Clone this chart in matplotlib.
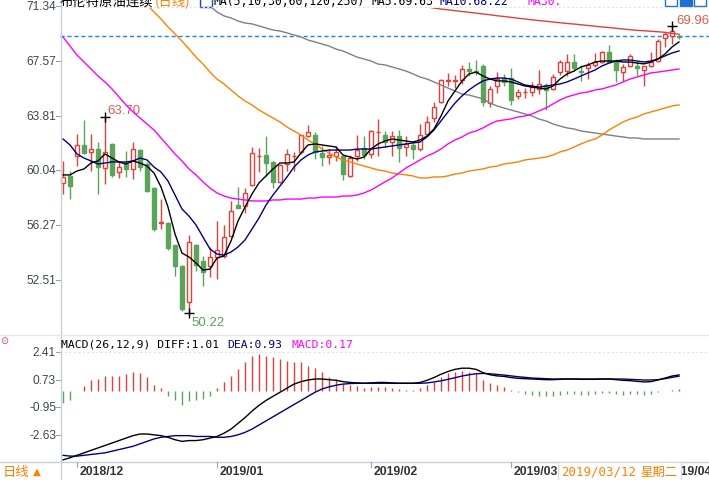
import numpy as np
import matplotlib
matplotlib.use("Agg")
import matplotlib.pyplot as plt
from matplotlib.patches import Rectangle

# ---------------- data ----------------
opens = [59.18, 59.66, 61.03, 61.79, 61.31, 61.51, 60.21, 61.86, 59.93, 60.48,
         60.14, 61.44, 60.48, 58.83, 56.45, 56.43, 54.91, 53.47, 51.00, 54.91,
         53.81, 53.47, 54.09, 54.16, 55.53, 57.66, 57.59, 59.04, 61.00, 61.10,
         60.62, 59.24, 60.48, 61.00, 61.31, 62.40, 62.47, 61.24, 60.96, 61.03,
         61.03, 59.66, 61.03, 61.58, 61.17, 62.65, 62.47, 61.99, 62.40, 61.65,
         61.79, 61.51, 62.54, 63.64, 64.74, 66.20, 66.20, 66.25, 67.00, 66.90,
         67.22, 64.67, 65.84, 66.39, 66.39, 65.16, 65.40, 65.43, 65.64, 65.91,
         65.64, 66.80, 66.87, 67.49, 66.90, 67.08, 67.29, 67.49, 68.18, 67.49,
         66.80, 67.22, 67.20, 66.94, 67.22, 67.56, 69.14, 69.28, 69.25]
highs = [60.69, 60.00, 62.54, 63.50, 62.54, 61.99, 63.70, 61.90, 60.69, 61.37,
         61.99, 61.51, 60.62, 58.90, 58.07, 56.50, 54.91, 53.54, 55.60, 54.98,
         54.16, 54.78, 56.56, 56.29, 57.94, 58.90, 58.83, 61.65, 61.58, 62.40,
         60.69, 60.48, 61.51, 61.31, 62.47, 63.16, 62.68, 61.72, 61.51, 61.72,
         61.10, 61.10, 62.47, 62.40, 62.82, 63.57, 62.75, 62.75, 62.82, 62.40,
         62.06, 63.23, 63.78, 64.74, 66.32, 66.74, 66.60, 67.29, 67.49, 67.63,
         67.36, 65.84, 66.80, 66.67, 67.08, 65.64, 65.71, 66.12, 66.94, 66.05,
         66.67, 67.63, 68.04, 68.04, 67.30, 67.50, 68.10, 68.25, 68.66, 67.70,
         67.36, 68.04, 67.56, 67.22, 68.18, 69.07, 69.55, 69.96, 69.40]
lows = [58.42, 58.07, 60.34, 61.17, 60.00, 58.42, 59.11, 59.60, 59.52, 59.59,
        59.45, 60.00, 58.56, 55.88, 56.01, 54.57, 52.78, 50.38, 50.22, 53.13,
        52.10, 52.71, 52.58, 54.02, 55.46, 57.46, 57.11, 58.97, 59.93, 59.66,
        58.83, 59.18, 60.00, 60.00, 61.17, 62.34, 60.83, 60.34, 60.48, 60.69,
        59.38, 59.59, 60.69, 60.83, 60.89, 61.03, 61.65, 61.03, 60.62, 61.03,
        60.83, 61.37, 62.47, 63.37, 64.67, 65.84, 65.70, 65.98, 66.53, 66.60,
        64.47, 64.40, 65.36, 65.84, 64.54, 64.95, 65.02, 65.16, 65.29, 64.19,
        65.57, 66.60, 66.53, 66.87, 66.19, 66.30, 67.15, 67.42, 67.42, 66.12,
        66.19, 67.15, 66.53, 65.84, 67.15, 67.49, 68.52, 68.73, 69.10]
closes = [59.59, 58.97, 61.79, 61.24, 61.51, 60.27, 61.31, 59.73, 60.27, 60.14,
          61.51, 60.27, 58.63, 56.01, 56.50, 54.71, 53.47, 50.52, 55.12, 53.54,
          53.06, 54.09, 54.57, 55.46, 57.25, 57.46, 58.49, 61.24, 61.05, 60.55,
          59.24, 60.41, 61.17, 61.05, 62.47, 62.68, 61.31, 60.96, 61.10, 61.31,
          59.79, 60.89, 61.44, 61.10, 62.75, 62.70, 61.99, 62.40, 61.58, 61.86,
          61.51, 62.47, 63.37, 64.40, 66.25, 66.25, 66.25, 67.01, 66.90, 66.80,
          64.74, 65.64, 66.32, 66.12, 64.88, 65.43, 65.45, 65.77, 65.98, 65.57,
          66.46, 67.49, 67.49, 67.08, 66.80, 67.29, 67.49, 68.18, 67.49, 66.94,
          67.15, 67.90, 67.05, 67.22, 67.49, 68.93, 69.41, 69.62, 69.20]

# moving averages (one value per candle, NaN = not drawn)
ma5 = [59.73, 59.73, 60.00, 60.14, 60.55, 60.69, 61.17, 60.89, 60.62, 60.48,
       60.69, 60.55, 60.34, 59.86, 58.90, 57.52, 55.67, 54.36, 54.09, 53.68,
       53.19, 53.26, 54.02, 54.16, 55.19, 56.56, 57.52, 58.42, 59.18, 59.66,
       60.14, 60.55, 60.55, 60.62, 61.24, 61.79, 61.86, 61.79, 61.72, 61.65,
       61.10, 60.96, 60.82, 60.96, 61.51, 61.86, 62.06, 62.20, 62.13, 62.06,
       61.99, 62.13, 62.40, 62.89, 63.78, 64.81, 65.50, 66.19, 66.67, 66.80,
       66.53, 66.32, 66.19, 66.19, 66.12, 65.98, 65.84, 65.77, 65.70, 65.64,
       65.84, 66.32, 66.67, 66.87, 67.15, 67.29, 67.49, 67.56, 67.56, 67.56,
       67.49, 67.49, 67.42, 67.36, 67.49, 67.70, 68.04, 68.52, 68.87]
ma10 = [62.20, 61.79, 61.17, 60.89, 60.69, 60.48, 60.55, 60.62, 60.62, 60.62,
        60.69, 60.89, 60.76, 60.27, 59.93, 59.31, 58.35, 57.39, 56.90, 56.29,
        55.46, 54.64, 54.29, 54.22, 54.43, 54.78, 55.26, 56.01, 56.77, 57.66,
        58.35, 58.97, 59.59, 60.27, 60.76, 61.10, 61.31, 61.37, 61.44, 61.44,
        61.44, 61.44, 61.51, 61.51, 61.51, 61.58, 61.65, 61.72, 61.79, 61.86,
        61.93, 61.99, 62.34, 62.82, 63.44, 64.06, 64.67, 65.16, 65.57, 65.91,
        66.19, 66.32, 66.39, 66.39, 66.32, 66.12, 65.91, 65.84, 65.77, 65.84,
        65.91, 65.98, 66.12, 66.32, 66.53, 66.74, 66.94, 67.22, 67.42, 67.56,
        67.63, 67.63, 67.56, 67.49, 67.56, 67.70, 67.91, 68.11, 68.25]
ma30 = [69.21, 68.59, 67.97, 67.49, 67.01, 66.53, 66.12, 65.64, 65.09, 64.54,
        64.06, 63.64, 63.23, 62.82, 62.27, 61.72, 61.17, 60.69, 60.14, 59.73,
        59.25, 58.83, 58.49, 58.28, 58.14, 58.07, 58.01, 57.94, 57.94, 57.94,
        58.01, 58.01, 58.07, 58.07, 58.07, 58.14, 58.14, 58.21, 58.21, 58.21,
        58.28, 58.28, 58.35, 58.49, 58.69, 58.97, 59.25, 59.52, 59.86, 60.21,
        60.48, 60.76, 61.03, 61.24, 61.51, 61.86, 62.13, 62.34, 62.61, 62.75,
        62.96, 63.23, 63.44, 63.51, 63.58, 63.71, 63.78, 63.92, 64.13, 64.33,
        64.61, 64.88, 65.09, 65.23, 65.36, 65.43, 65.57, 65.64, 65.78, 65.91,
        66.12, 66.32, 66.46, 66.60, 66.74, 66.80, 66.87, 66.94, 67.01]
ma60 = [np.nan] * 11 + [
        71.89, 71.41, 70.93, 70.45, 69.90, 69.42, 68.93, 68.38, 67.83, 67.35,
        66.80, 66.32, 65.98, 65.57, 65.16, 64.81, 64.54, 64.19, 63.92, 63.64,
        63.37, 63.02, 62.75, 62.47, 62.13, 61.86, 61.51, 61.24, 60.96, 60.76,
        60.62, 60.48, 60.34, 60.21, 60.07, 60.00, 59.86, 59.79, 59.73, 59.66,
        59.52, 59.52, 59.59, 59.59, 59.66, 59.79, 59.86, 60.00, 60.07, 60.14,
        60.27, 60.34, 60.48, 60.55, 60.62, 60.76, 60.82, 60.89, 60.96, 61.10,
        61.31, 61.44, 61.65, 61.86, 62.06, 62.20, 62.47, 62.82, 63.09, 63.37,
        63.57, 63.71, 63.92, 64.06, 64.19, 64.33, 64.47, 64.54]
ma120 = [np.nan] * 20 + [
         71.61, 71.34, 70.93, 70.66, 70.52, 70.31, 70.17, 70.11, 69.97, 69.83,
         69.69, 69.62, 69.49, 69.35, 69.21, 69.00, 68.87, 68.73, 68.59, 68.38,
         68.25, 68.04, 67.83, 67.70, 67.56, 67.35, 67.29, 67.15, 67.01, 66.87,
         66.67, 66.46, 66.32, 66.12, 65.91, 65.70, 65.50, 65.29, 65.22, 65.09,
         64.95, 64.67, 64.47, 64.33, 64.19, 64.06, 63.92, 63.78, 63.57, 63.44,
         63.23, 63.09, 62.96, 62.89, 62.75, 62.68, 62.61, 62.54, 62.47, 62.40,
         62.34, 62.27, 62.27, 62.20, 62.20, 62.20, 62.20, 62.20, 62.20]
ma250 = [np.nan] * 51 + [
         71.35, 71.28, 71.20, 71.13, 71.08, 71.02, 70.96, 70.91, 70.85, 70.79,
         70.74, 70.67, 70.62, 70.56, 70.50, 70.45, 70.39, 70.34, 70.29, 70.24,
         70.19, 70.14, 70.10, 70.05, 70.00, 69.95, 69.90, 69.86, 69.81, 69.76,
         69.71, 69.67, 69.64, 69.60, 69.57, 69.53, 69.46, 69.40]

last_price = 69.28
max_label, min_label = "63.70", "50.22"

# MACD (26,12,9)
macd_hist = [-0.70, -0.50, 0.03, 0.33, 0.70, 0.76, 0.94, 0.94, 0.94, 1.06,
             1.18, 1.12, 0.88, 0.40, 0.21, -0.30, -0.55, -0.85, -0.60, -0.50,
             -0.45, -0.25, 0.21, 0.58, 0.94, 1.37, 1.79, 2.16, 2.29, 2.16,
             2.10, 1.98, 1.86, 1.79, 1.79, 1.55, 1.43, 1.18, 0.88, 0.76,
             0.46, 0.40, 0.33, 0.20, 0.25, 0.30, 0.25, 0.20, 0.15, 0.10,
             0.10, 0.20, 0.40, 0.60, 0.90, 1.10, 1.20, 1.25, 1.20, 1.10,
             0.70, 0.50, 0.40, 0.30, 0.10, -0.05, -0.15, -0.20, -0.25, -0.30,
             -0.25, -0.20, -0.15, -0.15, -0.20, -0.20, -0.15, -0.10, -0.10, -0.15,
             -0.20, -0.15, -0.15, -0.20, -0.15, -0.05, 0.05, 0.10, 0.17]
diff = [-4.18, -4.05, -3.90, -3.75, -3.60, -3.45, -3.30, -3.15, -3.00, -2.85,
        -2.70, -2.60, -2.60, -2.65, -2.70, -2.80, -2.95, -3.05, -3.00, -3.00,
        -2.95, -2.85, -2.75, -2.55, -2.30, -1.95, -1.60, -1.20, -0.85, -0.55,
        -0.30, -0.05, 0.20, 0.45, 0.60, 0.70, 0.76, 0.76, 0.72, 0.68,
        0.60, 0.55, 0.52, 0.50, 0.52, 0.55, 0.55, 0.52, 0.50, 0.50,
        0.50, 0.55, 0.68, 0.85, 1.05, 1.22, 1.35, 1.42, 1.42, 1.35,
        1.15, 1.02, 0.95, 0.92, 0.85, 0.80, 0.78, 0.76, 0.74, 0.72,
        0.72, 0.74, 0.76, 0.76, 0.74, 0.74, 0.74, 0.76, 0.76, 0.72,
        0.68, 0.66, 0.62, 0.58, 0.60, 0.70, 0.82, 0.94, 1.01]
dea = [-3.90, -3.95, -3.95, -3.90, -3.85, -3.80, -3.75, -3.65, -3.55, -3.45,
       -3.35, -3.20, -3.05, -2.90, -2.80, -2.75, -2.70, -2.70, -2.70, -2.75,
       -2.75, -2.75, -2.80, -2.80, -2.75, -2.65, -2.50, -2.30, -2.05, -1.80,
       -1.55, -1.30, -1.05, -0.80, -0.55, -0.30, -0.05, 0.15, 0.28, 0.38,
       0.45, 0.48, 0.50, 0.50, 0.50, 0.50, 0.50, 0.50, 0.50, 0.50,
       0.50, 0.50, 0.52, 0.58, 0.65, 0.74, 0.84, 0.94, 1.02, 1.08,
       1.10, 1.08, 1.04, 1.00, 0.95, 0.90, 0.86, 0.82, 0.80, 0.78,
       0.76, 0.76, 0.76, 0.76, 0.76, 0.76, 0.76, 0.76, 0.76, 0.76,
       0.76, 0.74, 0.72, 0.70, 0.70, 0.72, 0.78, 0.86, 0.93]

price_ticks = [71.34, 67.57, 63.81, 60.04, 56.27, 52.51]
macd_ticks = [2.41, 0.73, -0.95, -2.63]
date_labels = ["2018/12", "2019/01", "2019/02", "2019/03", "2019/04"]
date_idx = [2, 22, 44, 64, 86]

# ---------------- style ----------------
RED = "#e0413a"
GREEN = "#5aa55a"
W, H = 709, 481
NUM_FONT = ["Liberation Sans", "DejaVu Sans"]
MONO = ["DejaVu Sans Mono", "Noto Sans CJK SC"]
CJK = ["Noto Sans CJK SC", "DejaVu Sans"]

fig = plt.figure(figsize=(W / 100, H / 100), dpi=100)
fig.patch.set_facecolor("white")


def fx(px):
    return px / W


def fy(py):
    return 1 - py / H


n = len(closes)
x = np.arange(n)
o = np.array(opens); h = np.array(highs); l = np.array(lows); c = np.array(closes)

# main axes: pixel y 7 -> 71.34, 14.55 px per unit, clipped from y=8.5
ppu = 14.55
top_px, bot_px = 8.5, 332
ax = fig.add_axes([fx(60), fy(bot_px), fx(709 - 60), (bot_px - top_px) / H])
ax.set_ylim(71.34 - (bot_px - 7) / ppu, 71.34 - (top_px - 7) / ppu)
ax.set_xlim((60 - 63) / 7, (709 - 63) / 7)
for s in ax.spines.values():
    s.set_visible(False)
ax.set_xticks([]); ax.set_yticks([])
ax.set_facecolor("none")

up = c >= o
col = np.where(up, RED, GREEN)
ax.vlines(x, l, h, colors=col, lw=1.0, zorder=2)
bh = c - o
bh = np.where(np.abs(bh) < 0.03, np.where(up, 0.03, -0.03), bh)
ax.bar(x[up], bh[up], bottom=o[up], width=0.68, facecolor="white",
       edgecolor=RED, lw=1.0, zorder=3)
ax.bar(x[~up], bh[~up], bottom=o[~up], width=0.68, facecolor=GREEN,
       edgecolor=GREEN, lw=1.0, zorder=3)

ax.plot(x, ma250, color="#e0403a", lw=1.0, zorder=4)
ax.plot(x, ma120, color="#808080", lw=1.0, zorder=4)
ax.plot(x, ma60, color="#ff8000", lw=1.0, zorder=4)
ax.plot(x, ma30, color="#ff00ff", lw=1.0, zorder=4)
ax.plot(x, ma10, color="#000080", lw=1.0, zorder=5)
ax.plot(x, ma5, color="black", lw=1.0, zorder=5)

ax.axhline(last_price, color="#2080ff", lw=1.0, ls=(0, (3, 2)), zorder=1)

# max / min markers
imax = int(np.argmax(h)); imin = int(np.argmin(l))
i_hi = int(np.argmax(h[:40]))
ax.plot([i_hi], [h[i_hi]], marker="+", color="black", ms=7, mew=1, zorder=6)
ax.annotate(max_label, (i_hi, h[i_hi]), xytext=(2, 1), textcoords="offset points",
            color="#e05a50", fontsize=9.5, family=NUM_FONT, va="bottom")
ax.plot([imax], [h[imax]], marker="+", color="black", ms=7, mew=1, zorder=6)
ax.annotate(f"{h[imax]:.2f}", (imax, h[imax]), xytext=(3, 0), textcoords="offset points",
            color="#e05a50", fontsize=9.5, family=NUM_FONT, va="bottom")
ax.plot([imin], [l[imin]], marker="+", color="black", ms=7, mew=1, zorder=6)
ax.annotate(min_label, (imin, l[imin]), xytext=(2, -2), textcoords="offset points",
            color="#5a9e5a", fontsize=9.5, family=NUM_FONT, va="top")

# MACD axes
m_top, m_bot = 337, 462
ax2 = fig.add_axes([fx(60), fy(m_bot), fx(709 - 60), (m_bot - m_top) / H])
mppu = 16.37
ax2.set_ylim(2.41 - (m_bot - 353) / mppu, 2.41 + (353 - m_top) / mppu)
ax2.set_xlim(ax.get_xlim())
for s in ax2.spines.values():
    s.set_visible(False)
ax2.set_xticks([]); ax2.set_yticks([])
ax2.set_facecolor("none")
hist = np.array(macd_hist)
ax2.vlines(x, 0, hist, colors=np.where(hist >= 0, RED, GREEN), lw=1.0)
ax2.plot(x, dea, color="#000080", lw=1.0)
ax2.plot(x, diff, color="black", lw=1.0)


def y_main(v):
    return 7 + (71.34 - v) * ppu


def y_macd(v):
    return 353 + (2.41 - v) * mppu


for v in price_ticks:
    yy = y_main(v)
    fig.text(fx(56), fy(yy), f"{v:.2f}", ha="right", va="center", fontsize=8.6,
             color="#3c4650", family=NUM_FONT)
    fig.add_artist(plt.Line2D([fx(56), fx(60)], [fy(yy), fy(yy)], color="#9aa6b2", lw=0.8))
for v in macd_ticks:
    yy = y_macd(v)
    fig.text(fx(56), fy(yy), f"{v:.2f}", ha="right", va="center", fontsize=8.6,
             color="#3c4650", family=NUM_FONT)
    fig.add_artist(plt.Line2D([fx(56), fx(60)], [fy(yy), fy(yy)], color="#9aa6b2", lw=0.8))

# faint top gridlines
fig.add_artist(plt.Line2D([fx(60), 1], [fy(8), fy(8)], color="#dde3ea", lw=0.8, ls=(0, (2, 2))))
fig.add_artist(plt.Line2D([fx(60), 1], [fy(353), fy(353)], color="#dde3ea", lw=0.8, ls=(0, (2, 2))))

# frame lines
fig.add_artist(plt.Line2D([fx(60.5), fx(60.5)], [0, 1], color="#c8d0d8", lw=1))
fig.add_artist(plt.Line2D([0, 1], [fy(335.5), fy(335.5)], color="#e4e8ee", lw=1))
fig.add_artist(plt.Line2D([0, 1], [fy(462.5), fy(462.5)], color="#c8d0d8", lw=1))

# header (partly cut off at the top)
hy = fy(1.5)
fig.text(fx(60), hy, "布伦特原油连续", fontsize=9.6, family=CJK, va="center", color="black")
fig.text(fx(155), hy, "(日线)", fontsize=9.6, family=CJK, va="center", color="#ff8000")
fig.add_artist(Rectangle((fx(200), fy(8)), fx(12), 12 / H, facecolor="white",
                         edgecolor="#2040c0", lw=1))
fig.text(fx(214), hy, "MA(5,10,30,60,120,250)", fontsize=8.3, family=MONO, va="center", color="black")
fig.text(fx(372), hy, "MA5:69.63", fontsize=8.3, family=MONO, va="center", color="black")
fig.text(fx(440), hy, "MA10:68.22", fontsize=8.3, family=MONO, va="center", color="#000080")
fig.text(fx(527), hy, "MA30:", fontsize=8.3, family=MONO, va="center", color="#ff00ff")
for bx, filled in [(665, False), (680, True), (694, False)]:
    fig.add_artist(Rectangle((fx(bx), fy(7)), fx(12), 9 / H, facecolor="#2070d0" if filled else "white",
                             edgecolor="#2070d0", lw=1))

# MACD header
my = fy(345)
fig.text(fx(61), my, "MACD(26,12,9) DIFF:1.01", fontsize=8.2, family=MONO, va="center", color="black")
fig.text(fx(227), my, "DEA:0.93", fontsize=8.2, family=MONO, va="center", color="#000080")
fig.text(fx(291), my, "MACD:0.17", fontsize=8.2, family=MONO, va="center", color="#ff00ff")
fig.text(fx(0), fy(341), "⊙", fontsize=7, color="#e04040", va="center", family=["DejaVu Sans"])

# date axis
for lab, i in zip(date_labels, date_idx):
    px = 63 + 7 * i
    fig.add_artist(plt.Line2D([fx(px), fx(px)], [fy(463), fy(468)], color="#9aa6b2", lw=0.8))
    fig.text(fx(px + 3), fy(472), lab, fontsize=8.8, fontweight="bold", family=NUM_FONT,
             va="center", ha="left", color="#333333")
# crosshair date box (covers part of the axis labels)
fig.add_artist(Rectangle((fx(558), fy(481)), fx(681 - 558), 18 / H, facecolor="white",
                         edgecolor="#d8d8d8", lw=0.8, zorder=10))
fig.text(fx(561), fy(472), "2019/03/12", fontsize=9.0, family=MONO, va="center",
         ha="left", color="#ff8000", zorder=11)
fig.text(fx(640), fy(472), "星期二", fontsize=8.9, family=CJK, va="center",
         ha="left", color="#ff8000", zorder=11)
fig.text(fx(3), fy(472), "日线", fontsize=9.6, family=CJK, va="center", color="#ff8000")
fig.text(fx(33), fy(472), "▲", fontsize=7.5, family=["DejaVu Sans"], va="center", color="#ff8000")

fig.savefig("out.png", dpi=100)
